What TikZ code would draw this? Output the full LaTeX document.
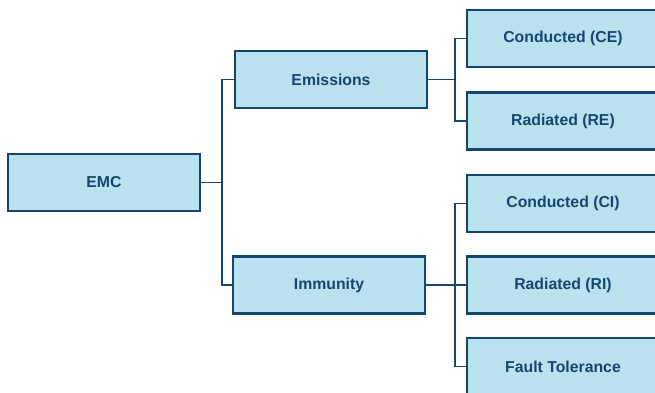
\documentclass[tikz,border=0pt]{standalone}
\usepackage{fontspec}
\setmainfont{Liberation Sans}
\definecolor{boxfill}{RGB}{185,226,238}
\definecolor{boxline}{RGB}{22,70,112}
\begin{document}
\begin{tikzpicture}[x=1pt,y=-1pt,
  catbox/.style={draw=boxline,fill=boxfill,line width=2.1pt,minimum width=192pt,minimum height=57pt,inner sep=0pt,
    font=\fontsize{15.8}{19}\selectfont\bfseries,text=boxline},
  link/.style={draw=boxline,line width=1.8pt}]
\useasboundingbox (0,0) rectangle (655,392);
\clip (0,0) rectangle (655,392);
\node[catbox] (emc) at (104,182.5) {EMC};
\node[catbox] (emi) at (331,79.5) {Emissions};
\node[catbox] (imm) at (329,285) {Immunity};
\node[catbox] (ce) at (563,38.5) {Conducted (CE)};
\node[catbox] (re) at (563,121) {Radiated (RE)};
\node[catbox] (ci) at (563,203.5) {Conducted (CI)};
\node[catbox] (ri) at (563,285) {Radiated (RI)};
\node[catbox] (ft) at (563,366.5) {Fault Tolerance};
\coordinate (j1) at (222,182.5);
\coordinate (j2) at (455,79.5);
\coordinate (j3) at (455,285);
\draw[link] (emc.east) -- (j1);
\draw[link] (emi.west) -| (j1) |- (imm.west);
\draw[link] (emi.east) -- (j2);
\draw[link] (ce.west) -| (j2) |- (re.west);
\draw[link] (imm.east) -- (ri.west);
\draw[link] (ci.west) -| (j3) |- (ft.west);
\end{tikzpicture}
\end{document}
